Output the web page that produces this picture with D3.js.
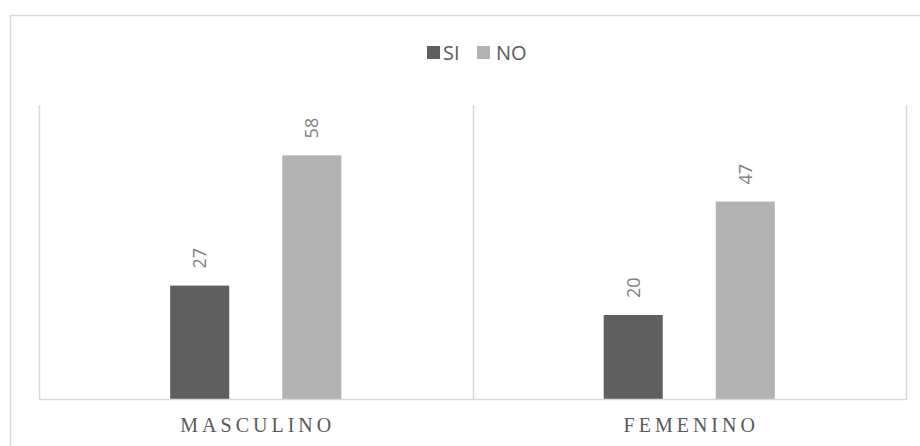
<!DOCTYPE html>
<html>
<head>
<meta charset="utf-8">
<script src="https://cdn.jsdelivr.net/npm/d3@7"></script>
<style>
  body { margin: 0; background: #fff; }
</style>
</head>
<body>
<div id="vis"></div>
<script>
var categories = ["MASCULINO", "FEMENINO"];
var series = ["SI", "NO"];
var siValues = [27, 20];
var noValues = [58, 47];
var colors = ["#5f5f5f", "#b2b2b2"];

var width = 920;
var height = 446;
var plotLeft = 39, plotRight = 906, plotTop = 105, plotBottom = 399;

var canvas = d3.select("#vis")
        .append("svg")
        .attr("width", width)
        .attr("height", height);

// chart frame
canvas.append("rect")
        .attr("x", 10.5)
        .attr("y", 15.5)
        .attr("width", 930)
        .attr("height", 450)
        .attr("fill", "#fff")
        .attr("stroke", "#d9d9d9")
        .attr("stroke-width", 1.5);

var x0 = d3.scaleBand()
        .domain(categories)
        .range([plotLeft, plotRight])
        .padding(0);

var x1 = d3.scaleBand()
        .domain(series)
        .range([0, x0.bandwidth()])
        .paddingInner(0.473)
        .paddingOuter(1.17);

var y = d3.scaleLinear()
        .domain([0, 70])
        .range([plotBottom, plotTop]);

// category separators
var seps = [plotLeft].concat(categories.map(function(c) { return x0(c) + x0.bandwidth(); }));
canvas.selectAll(".sep")
        .data(seps)
        .enter().append("line")
        .attr("x1", function(d) { return Math.round(d) + 0.5; })
        .attr("x2", function(d) { return Math.round(d) + 0.5; })
        .attr("y1", plotTop)
        .attr("y2", plotBottom)
        .attr("stroke", "#d9d9d9")
        .attr("stroke-width", 1.5);

var rows = [];
categories.forEach(function(c, i) {
  rows.push({cat: c, s: "SI", v: siValues[i], color: colors[0]});
  rows.push({cat: c, s: "NO", v: noValues[i], color: colors[1]});
});

canvas.selectAll(".bar")
        .data(rows)
        .enter().append("rect")
        .attr("x", function(d) { return x0(d.cat) + x1(d.s); })
        .attr("y", function(d) { return y(d.v); })
        .attr("width", x1.bandwidth())
        .attr("height", function(d) { return y(0) - y(d.v); })
        .attr("fill", function(d) { return d.color; });

// baseline
canvas.append("line")
        .attr("x1", plotLeft)
        .attr("x2", plotRight + 1)
        .attr("y1", plotBottom + 0.5)
        .attr("y2", plotBottom + 0.5)
        .attr("stroke", "#d9d9d9")
        .attr("stroke-width", 1.5);

// value labels, rotated
canvas.selectAll(".lab")
        .data(rows)
        .enter().append("text")
        .attr("transform", function(d) {
          var cx = x0(d.cat) + x1(d.s) + x1.bandwidth() / 2;
          return "translate(" + cx + "," + (y(d.v) - 17) + ") rotate(-90)";
        })
        .attr("dy", "0.36em")
        .attr("fill", "#7f7f7f")
        .style("font-family", "'Open Sans', sans-serif")
        .style("font-size", "18px")
        .text(function(d) { return d.v; });

// category labels
canvas.selectAll(".cat")
        .data(categories)
        .enter().append("text")
        .attr("x", function(d) { return x0(d) + x0.bandwidth() / 2 + 2; })
        .attr("y", 432)
        .attr("text-anchor", "middle")
        .attr("fill", "#595959")
        .style("font-family", "'Liberation Serif', serif")
        .style("font-size", "20px")
        .style("letter-spacing", "4px")
        .text(function(d) { return d; });

// legend
var legendX = [427, 477];
var legend = canvas.selectAll(".leg")
        .data(series)
        .enter().append("g")
        .attr("transform", function(d, i) { return "translate(" + legendX[i] + ",46)"; });

legend.append("rect")
        .attr("width", 13)
        .attr("height", 13)
        .attr("fill", function(d, i) { return colors[i]; });

legend.append("text")
        .attr("x", function(d, i) { return i == 0 ? 16 : 19; })
        .attr("y", 13.5)
        .attr("fill", "#595959")
        .style("font-family", "'Open Sans', sans-serif")
        .style("font-size", "20px")
        .text(function(d) { return d; });
</script>
</body>
</html>
